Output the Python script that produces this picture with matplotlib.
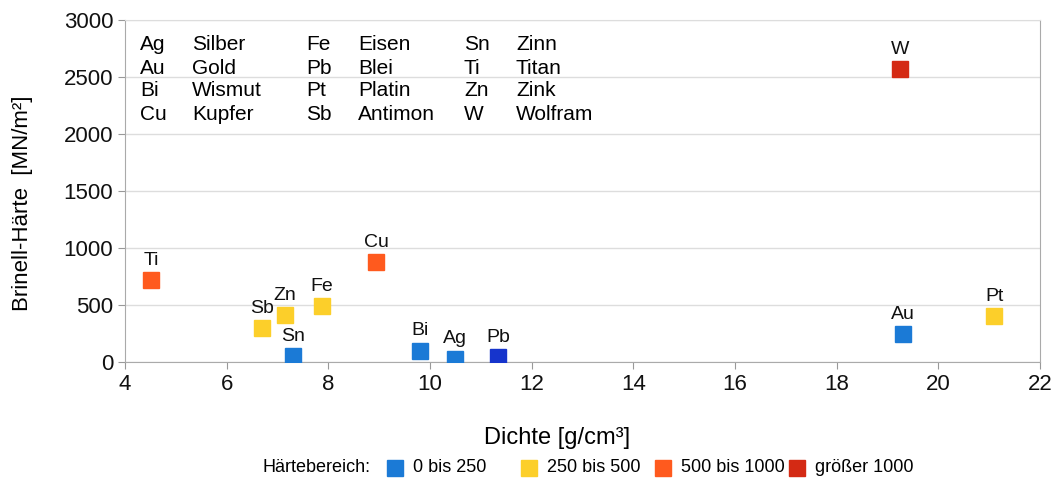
import matplotlib.pyplot as plt
from matplotlib.lines import Line2D

plt.rcParams['font.family'] = ['Liberation Sans', 'DejaVu Sans']

# element, density [g/cm3], Brinell hardness [MN/m2]
elements = ['Ti', 'Sb', 'Zn', 'Sn', 'Fe', 'Cu', 'Bi', 'Ag', 'Pb', 'Au', 'Pt', 'W']
density = [4.52, 6.7, 7.14, 7.3, 7.87, 8.94, 9.8, 10.5, 11.34, 19.3, 21.1, 19.25]
hardness = [720, 300, 410, 50, 490, 880, 100, 30, 40, 245, 400, 2570]
colors = ['#ff5a1e', '#fccf2a', '#fccf2a', '#1b7ad6', '#fccf2a', '#ff5a1e',
          '#1b7ad6', '#1b7ad6', '#1634cc', '#1b7ad6', '#fccf2a', '#d42a14']

name_sym = ['Ag', 'Au', 'Bi', 'Cu', 'Fe', 'Pb', 'Pt', 'Sb', 'Sn', 'Ti', 'Zn', 'W']
name_de = ['Silber', 'Gold', 'Wismut', 'Kupfer', 'Eisen', 'Blei', 'Platin', 'Antimon',
           'Zinn', 'Titan', 'Zink', 'Wolfram']

range_labels = ['0 bis 250', '250 bis 500', '500 bis 1000', 'größer 1000']
range_colors = ['#1b7ad6', '#fccf2a', '#ff5a1e', '#d42a14']

W, H = 1054, 486
fig = plt.figure(figsize=(W / 100, H / 100), dpi=100)
ax = fig.add_axes([125 / W, 1 - 362 / H, 915 / W, 342 / H])

for x, y, c, lab in zip(density, hardness, colors, elements):
    ax.plot(x, y, marker='s', ms=11, color=c, ls='none', zorder=3)
    ax.annotate(lab, (x, y), xytext=(0, 8), textcoords='offset points',
                ha='center', va='bottom', fontsize=14, color='#111111')

ax.set_xlim(4, 22)
ax.set_ylim(0, 3000)
ax.set_xticks(range(4, 23, 2))
ax.set_yticks(range(0, 3001, 500))
ax.grid(axis='y', color='#dddddd', linewidth=1)
ax.set_axisbelow(True)
ax.tick_params(labelsize=16, color='#999999', length=5, labelcolor='#111111')
for s in ax.spines.values():
    s.set_color('#aaaaaa')
ax.spines['top'].set_color('#dddddd')

ax.set_xlabel('Dichte [g/cm³]', fontsize=17)
ax.xaxis.set_label_coords(0.472, -0.19)
ax.set_ylabel('Brinell-Härte  [MN/m²]', fontsize=16)
ax.yaxis.set_label_coords(-0.10, 0.465)

# element name table
col_x = [140, 306, 464]
row_y = [45, 68, 91, 114]
for i, (sym, nm) in enumerate(zip(name_sym, name_de)):
    cx = col_x[i // 4]
    ry = row_y[i % 4]
    fig.text(cx / W, 1 - ry / H, sym, fontsize=15, va='center', ha='left')
    fig.text((cx + 52) / W, 1 - ry / H, nm, fontsize=15, va='center', ha='left')

# legend row
ly = 1 - 468 / H
fig.text(262 / W, ly, 'Härtebereich:', fontsize=13, ha='left', va='center')
for k, (lab, c) in enumerate(zip(range_labels, range_colors)):
    sx = 395 + 134 * k
    fig.add_artist(Line2D([sx / W], [ly], transform=fig.transFigure, ls='none',
                          marker='s', ms=11, color=c))
    fig.text((sx + 18) / W, ly, lab, fontsize=13, ha='left', va='center')

fig.savefig('out.png', dpi=100, facecolor='white')
